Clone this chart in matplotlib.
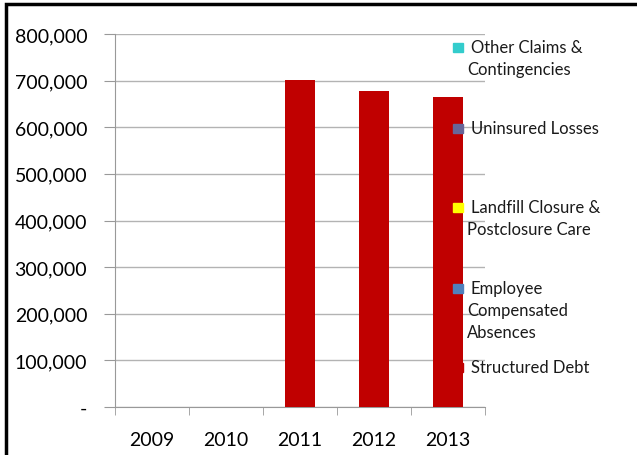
import matplotlib.pyplot as plt
import numpy as np
from matplotlib.patches import Rectangle
from matplotlib.ticker import FuncFormatter, FixedLocator

plt.rcParams['font.family'] = ['Lato', 'DejaVu Sans']

years = ['2009', '2010', '2011', '2012', '2013']

# stacked series, bottom to top
series_names = [
    'Structured Debt',
    'Employee\nCompensated\nAbsences',
    'Landfill Closure &\nPostclosure Care',
    'Uninsured Losses',
    'Other Claims &\nContingencies',
]
series_colors = ['#C00000', '#4F81BD', '#FFFF00', '#666699', '#33CCCC']
structured_debt = [0, 0, 702000, 677000, 665000]
employee_absences = [0, 0, 0, 0, 0]
landfill_care = [0, 0, 0, 0, 0]
uninsured_losses = [0, 0, 0, 0, 0]
other_claims = [0, 0, 0, 0, 0]
series_values = [structured_debt, employee_absences, landfill_care,
                 uninsured_losses, other_claims]

# legend rows (first line centre, pixels from top)
legend_y_px = [368, 289, 208, 129, 48]

W, H = 637, 456
fig = plt.figure(figsize=(W / 100, H / 100), dpi=100)
ax = fig.add_axes([115 / W, 1 - 408 / H, 370 / W, 373 / H])

x = np.arange(len(years))
bottom = np.zeros(len(years))
for name, vals, col in zip(series_names, series_values, series_colors):
    ax.bar(x, vals, width=0.4, bottom=bottom, color=col, zorder=3)
    bottom += np.array(vals)

ax.set_xlim(-0.5, len(years) - 0.5)
ax.set_ylim(0, 800000)
ax.set_yticks(np.arange(0, 800001, 100000))
ax.yaxis.set_major_formatter(FuncFormatter(lambda v, p: '-' if v == 0 else f'{int(v):,}'))
ax.grid(axis='y', color='#B3B3B3', linewidth=1, zorder=0)

ax.set_xticks(x)
ax.set_xticklabels(years)
ax.xaxis.set_minor_locator(FixedLocator(np.arange(-0.5, len(years), 1)))
ax.tick_params(axis='x', which='major', length=0, pad=17, labelsize=14)
ax.tick_params(axis='x', which='minor', length=6, color='#999999')
ax.tick_params(axis='y', length=8, color='#999999', pad=12, labelsize=14)

for s in ['top', 'right']:
    ax.spines[s].set_visible(False)
for s in ['left', 'bottom']:
    ax.spines[s].set_color('#999999')

# legend, drawn Excel style
for name, col, ypx in zip(series_names, series_colors, legend_y_px):
    fig.patches.append(Rectangle((453 / W, 1 - (ypx + 4.5) / H), 10 / W, 9 / H,
                                 transform=fig.transFigure, color=col, zorder=5))
    lines = name.split('\n')
    for i, line in enumerate(lines):
        xo = 471 if i == 0 else 467
        fig.text(xo / W, 1 - (ypx + 22 * i) / H, line, fontsize=12,
                 va='center', ha='left', color='#1A1A1A')

# outer chart frame
fig.patches.append(Rectangle((6 / W, -0.1), 1.1, 1 - 5 / H + 0.1,
                             transform=fig.transFigure, fill=False,
                             edgecolor='black', linewidth=2.5))

plt.savefig('out.png', dpi=100)
plt.close()
